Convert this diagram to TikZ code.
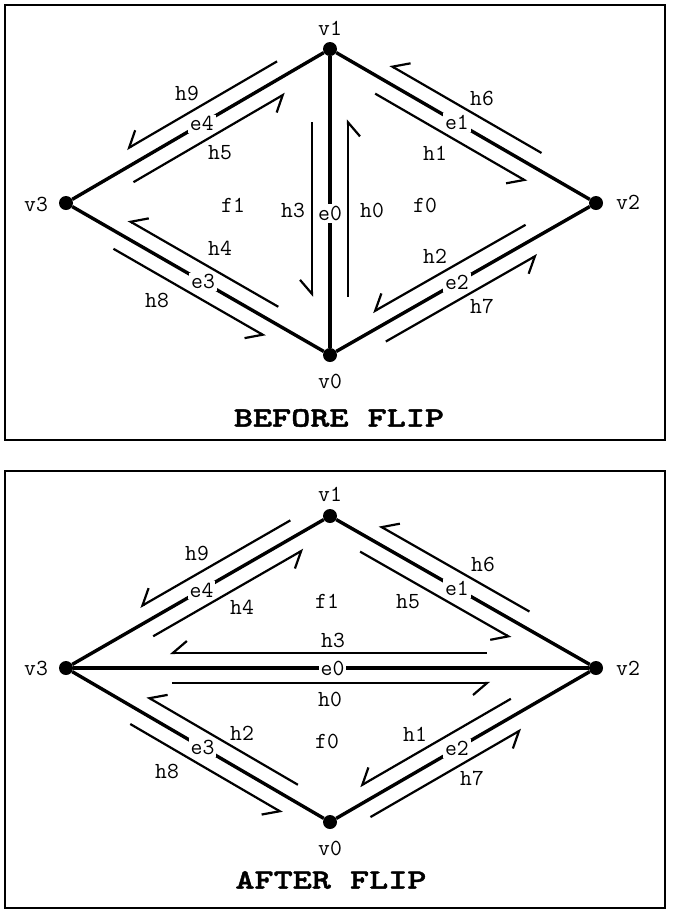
\documentclass[tikz,border=0pt]{standalone}
\usepackage{fontspec}
\usetikzlibrary{arrows.meta,calc}
\newfontfamily\titlefont{lmmonolt10-bold}[Extension=.otf,FakeStretch=1.3,FakeBold=1.5]
\tikzset{
  vertex/.style={circle,fill,inner sep=0pt,minimum size=14pt},
  lbl/.style={font=\ttfamily\fontsize{23}{23}\selectfont,inner sep=0pt},
  elbl/.style={lbl,fill=white,inner sep=2pt},
  edge/.style={line width=3.4pt},
  half/.style={line width=2.2pt,-{Straight Barb[right,length=14pt,width=24pt]}},
  title/.style={font=\titlefont\fontsize{28}{28}\selectfont},
  frame/.style={line width=2.5pt}
}
\begin{document}
\begin{tikzpicture}[x=1pt,y=-1pt]
\useasboundingbox (0,0) rectangle (674,914);
% before flip
\draw [frame] (5,5) rectangle (665,440);
\node [vertex] (bv1) at (330,49) {};
\node [vertex] (bv2) at (596,203) {};
\node [vertex] (bv3) at (66,203) {};
\node [vertex] (bv0) at (330,355) {};
\node [lbl] (bv1l) at (330,28) {v1};
\node [lbl] (bv2l) at (628,202) {v2};
\node [lbl] (bv3l) at (36,204) {v3};
\node [lbl] (bv0l) at (330,381) {v0};
\draw [edge] (bv3) -- (bv1) node[elbl,pos=0.515] (be4) {e4};
\draw [edge] (bv1) -- (bv2) node[elbl,pos=0.476] (be1) {e1};
\draw [edge] (bv0) -- (bv2) node[elbl,pos=0.476] (be2) {e2};
\draw [edge] (bv3) -- (bv0) node[elbl,pos=0.52] (be3) {e3};
\draw [edge] (bv1) -- (bv0) node[elbl,pos=0.54] (be0) {e0};
% half-edges
\draw [half] ($(bv0)!0.19!(bv1)!18pt!-90:(bv1)$) -- ($(bv0)!0.77!(bv1)!18pt!-90:(bv1)$);
\draw [half] ($(bv1)!0.24!(bv0)!18pt!-90:(bv0)$) -- ($(bv1)!0.81!(bv0)!18pt!-90:(bv0)$);
\draw [half] ($(bv1)!0.2!(bv2)!16pt!-90:(bv2)$) -- ($(bv1)!0.77!(bv2)!16pt!-90:(bv2)$);
\draw [half] ($(bv2)!0.235!(bv1)!16pt!-90:(bv1)$) -- ($(bv2)!0.805!(bv1)!16pt!-90:(bv1)$);
\draw [half] ($(bv2)!0.235!(bv0)!16pt!-90:(bv0)$) -- ($(bv2)!0.81!(bv0)!16pt!-90:(bv0)$);
\draw [half] ($(bv0)!0.18!(bv2)!16pt!-90:(bv2)$) -- ($(bv0)!0.75!(bv2)!16pt!-90:(bv2)$);
\draw [half] ($(bv0)!0.226!(bv3)!16pt!-90:(bv3)$) -- ($(bv0)!0.795!(bv3)!16pt!-90:(bv3)$);
\draw [half] ($(bv3)!0.21!(bv0)!16pt!-90:(bv0)$) -- ($(bv3)!0.785!(bv0)!16pt!-90:(bv0)$);
\draw [half] ($(bv3)!0.225!(bv1)!16pt!-90:(bv1)$) -- ($(bv3)!0.8!(bv1)!16pt!-90:(bv1)$);
\draw [half] ($(bv1)!0.17!(bv3)!16pt!-90:(bv3)$) -- ($(bv1)!0.74!(bv3)!16pt!-90:(bv3)$);
\node [lbl] (bh0) at (372,210) {h0};
\node [lbl] (bh1) at (435,153) {h1};
\node [lbl] (bh2) at (435,256) {h2};
\node [lbl] (bh3) at (293,210) {h3};
\node [lbl] (bh4) at (220,248) {h4};
\node [lbl] (bh5) at (220,153) {h5};
\node [lbl] (bh6) at (482,98) {h6};
\node [lbl] (bh7) at (482,306) {h7};
\node [lbl] (bh8) at (157,300) {h8};
\node [lbl] (bh9) at (187,93) {h9};
\node [lbl] (bf0) at (425,205) {f0};
\node [lbl] (bf1) at (233,205) {f1};
\node [title] (btitle) at (339,418) {BEFORE FLIP};
% after flip
\draw [frame] (5,471) rectangle (665,908);
\node [vertex] (av1) at (330,516) {};
\node [vertex] (av2) at (596,668) {};
\node [vertex] (av3) at (66,668) {};
\node [vertex] (av0) at (330,822) {};
\node [lbl] (av1l) at (330,494) {v1};
\node [lbl] (av2l) at (628,668) {v2};
\node [lbl] (av3l) at (36,668) {v3};
\node [lbl] (av0l) at (330,848) {v0};
\draw [edge] (av3) -- (av1) node[elbl,pos=0.514] (ae4) {e4};
\draw [edge] (av1) -- (av2) node[elbl,pos=0.476] (ae1) {e1};
\draw [edge] (av0) -- (av2) node[elbl,pos=0.476] (ae2) {e2};
\draw [edge] (av3) -- (av0) node[elbl,pos=0.518] (ae3) {e3};
\draw [edge] (av3) -- (av2) node[elbl,pos=0.503] (ae0) {e0};
% half-edges
\draw [half] ($(av3)!0.2!(av2)!15pt!-90:(av2)$) -- ($(av3)!0.8!(av2)!15pt!-90:(av2)$);
\draw [half] ($(av2)!0.206!(av3)!15pt!-90:(av3)$) -- ($(av2)!0.804!(av3)!15pt!-90:(av3)$);
\draw [half] ($(av2)!0.29!(av0)!16pt!-90:(av0)$) -- ($(av2)!0.858!(av0)!16pt!-90:(av0)$);
\draw [half] ($(av0)!0.152!(av3)!16pt!-90:(av3)$) -- ($(av0)!0.724!(av3)!16pt!-90:(av3)$);
\draw [half] ($(av3)!0.3!(av1)!16pt!-90:(av1)$) -- ($(av3)!0.87!(av1)!16pt!-90:(av1)$);
\draw [half] ($(av1)!0.143!(av2)!16pt!-90:(av2)$) -- ($(av1)!0.71!(av2)!16pt!-90:(av2)$);
\draw [half] ($(av2)!0.28!(av1)!16pt!-90:(av1)$) -- ($(av2)!0.845!(av1)!16pt!-90:(av1)$);
\draw [half] ($(av0)!0.122!(av2)!16pt!-90:(av2)$) -- ($(av0)!0.69!(av2)!16pt!-90:(av2)$);
\draw [half] ($(av3)!0.274!(av0)!16pt!-90:(av0)$) -- ($(av3)!0.85!(av0)!16pt!-90:(av0)$);
\draw [half] ($(av1)!0.12!(av3)!16pt!-90:(av3)$) -- ($(av1)!0.69!(av3)!16pt!-90:(av3)$);
\node [lbl] (ah0) at (330,699) {h0};
\node [lbl] (ah1) at (415,734) {h1};
\node [lbl] (ah2) at (242,733) {h2};
\node [lbl] (ah3) at (333,640) {h3};
\node [lbl] (ah4) at (242,607) {h4};
\node [lbl] (ah5) at (408,602) {h5};
\node [lbl] (ah6) at (483,564) {h6};
\node [lbl] (ah7) at (472,778) {h7};
\node [lbl] (ah8) at (167,771) {h8};
\node [lbl] (ah9) at (197,553) {h9};
\node [lbl] (af0) at (327,741) {f0};
\node [lbl] (af1) at (327,601) {f1};
\node [title] (atitle) at (331,880) {AFTER FLIP};
\end{tikzpicture}
\end{document}
